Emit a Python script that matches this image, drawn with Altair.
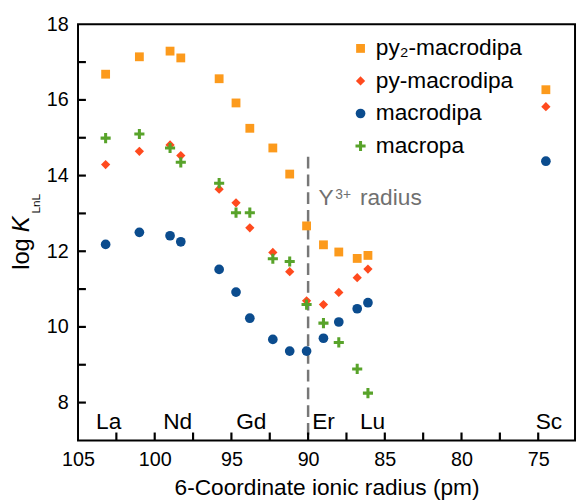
import altair as alt
import pandas as pd

# ---- data ----
elements = ["La", "Ce", "Pr", "Nd", "Sm", "Eu", "Gd", "Tb", "Dy", "Ho", "Er", "Tm", "Yb", "Lu", "Sc"]
radius = [103.2, 101.0, 99.0, 98.3, 95.8, 94.7, 93.8, 92.3, 91.2, 90.1, 89.0, 88.0, 86.8, 86.1, 74.5]
py2_macrodipa = [16.68, 17.14, 17.29, 17.11, 16.56, 15.92, 15.25, 14.73, 14.04, 12.67, 12.17, 11.98, 11.81, 11.89, 16.27]
py_macrodipa = [14.29, 14.64, 14.81, 14.53, 13.64, 13.28, 12.62, 11.97, 11.46, 10.69, 10.59, 10.91, 11.30, 11.53, 15.82]
macrodipa = [12.18, 12.50, 12.41, 12.25, 11.52, 10.92, 10.23, 9.67, 9.36, 9.36, 9.70, 10.13, 10.48, 10.64, 14.38]
macropa = [14.99, 15.10, 14.73, 14.35, 13.80, 13.02, 13.02, 11.80, 11.73, 10.59, 10.10, 9.59, 8.89, 8.25, None]

series_names = ["py\u2082-macrodipa", "py-macrodipa", "macrodipa", "macropa"]
series_values = [py2_macrodipa, py_macrodipa, macrodipa, macropa]
series_colors = ["#FC9A1C", "#FF4A1E", "#0B4C8E", "#58A32A"]
plus_path = "M-1,-0.3H-0.3V-1H0.3V-0.3H1V0.3H0.3V1H-0.3V0.3H-1Z"
series_shapes = ["square", "diamond", "circle", plus_path]
series_sizes = [80, 105, 50, 90]

label_names = ["La", "Nd", "Gd", "Er", "Lu", "Sc"]
label_radius = [103.0, 98.5, 93.7, 89.0, 85.8, 74.3]
label_y = 7.3

x_tick_labels = [105, 100, 95, 90, 85, 80, 75]
x_minor_ticks = [102.5, 100, 97.5, 95, 92.5, 90, 87.5, 85, 82.5, 80, 77.5, 75]
y_tick_labels = [8, 10, 12, 14, 16, 18]
y_minor_ticks = [8, 9, 10, 11, 12, 13, 14, 15, 16, 17]

y_radius = 90.0
FONT = "Liberation Sans"

rows = []
for name, vals in zip(series_names, series_values):
    for r, v in zip(radius, vals):
        if v is not None:
            rows.append({"radius": r, "logK": v, "series": name})
df = pd.DataFrame(rows)

W, H = 504, 422
X0, X1, Y0, Y1 = 105, 72.6, 7, 18
xscale = alt.Scale(domain=[X0, X1], nice=False, zero=False)
yscale = alt.Scale(domain=[Y0, Y1], nice=False, zero=False)
TICK = 8  # inward tick length in px
tick_dy = TICK * (Y1 - Y0) / H
tick_dx = TICK * (X0 - X1) / W

legend = alt.Legend(title=None, orient="none", legendX=275, legendY=13,
                    labelFontSize=23, labelFont=FONT, labelColor="black",
                    rowPadding=9, labelOffset=4, symbolStrokeWidth=0, padding=0)

points = alt.Chart(df).mark_point(filled=True, opacity=1, strokeWidth=0).encode(
    x=alt.X("radius:Q", scale=xscale,
            axis=alt.Axis(values=x_tick_labels, title="6-Coordinate ionic radius (pm)",
                          labelPadding=9, titlePadding=8, labelFlush=False, ticks=False,
                          domain=False, grid=False)),
    y=alt.Y("logK:Q", scale=yscale,
            axis=alt.Axis(values=y_tick_labels, title=None, labelPadding=10, labelFlush=False,
                          ticks=False, domain=False, grid=False)),
    color=alt.Color("series:N", scale=alt.Scale(domain=series_names, range=series_colors), legend=legend),
    shape=alt.Shape("series:N", scale=alt.Scale(domain=series_names, range=series_shapes), legend=legend),
    size=alt.Size("series:N", scale=alt.Scale(domain=series_names, range=series_sizes), legend=legend),
)

# inward ticks drawn through the scales
xt_df = pd.DataFrame({"xt": x_minor_ticks, "ya": [Y0] * len(x_minor_ticks),
                      "yb": [Y0 + tick_dy] * len(x_minor_ticks)})
xt = alt.Chart(xt_df).mark_rule(color="black", strokeWidth=2.2).encode(
    x=alt.X("xt:Q", scale=xscale, axis=None), y=alt.Y("ya:Q", scale=yscale, axis=None), y2="yb:Q")
yt_df = pd.DataFrame({"yt": y_minor_ticks, "xa": [X0] * len(y_minor_ticks),
                      "xb": [X0 - tick_dx] * len(y_minor_ticks)})
yt = alt.Chart(yt_df).mark_rule(color="black", strokeWidth=2.2).encode(
    y=alt.Y("yt:Q", scale=yscale, axis=None), x=alt.X("xa:Q", scale=xscale, axis=None), x2="xb:Q")

# Y3+ radius dashed line
yline = alt.Chart(pd.DataFrame({"x": [y_radius], "y1": [14.5], "y2": [7.0]})).mark_rule(
    color="#777777", strokeWidth=2.5, strokeDash=[12, 6]).encode(
    x=alt.X("x:Q", scale=xscale, axis=None), y=alt.Y("y1:Q", scale=yscale, axis=None), y2="y2:Q")

ann_df = pd.DataFrame({"x": [89.32], "y": [13.21]})
ann_Y = alt.Chart(ann_df).mark_text(text="Y", fontSize=23, font=FONT, color="#707070",
                                    align="left", baseline="alphabetic").encode(
    x=alt.X("x:Q", scale=xscale, axis=None), y=alt.Y("y:Q", scale=yscale, axis=None))
ann_sup = alt.Chart(ann_df).mark_text(text="3+", fontSize=14, font=FONT, color="#707070",
                                      align="left", baseline="alphabetic", dx=17, dy=-7).encode(
    x=alt.X("x:Q", scale=xscale, axis=None), y=alt.Y("y:Q", scale=yscale, axis=None))
ann_rad = alt.Chart(ann_df).mark_text(text="radius", fontSize=23, font=FONT, color="#707070",
                                      align="left", baseline="alphabetic", dx=42).encode(
    x=alt.X("x:Q", scale=xscale, axis=None), y=alt.Y("y:Q", scale=yscale, axis=None))

# element labels
lab = alt.Chart(pd.DataFrame({"name": label_names, "r": label_radius, "y": [label_y] * len(label_names)})
                ).mark_text(fontSize=23, font=FONT, color="black", align="center",
                            baseline="alphabetic").encode(
    x=alt.X("r:Q", scale=xscale, axis=None), y=alt.Y("y:Q", scale=yscale, axis=None), text="name:N")

# y axis title: log K_LnL
title_df = pd.DataFrame({"a": [0]})
t_log = alt.Chart(title_df).mark_text(text="log", fontSize=24, font=FONT, angle=270,
                                      align="left", baseline="alphabetic", color="black").encode(
    x=alt.value(-50), y=alt.value(249))
t_K = alt.Chart(title_df).mark_text(text="K", fontSize=24, font=FONT, fontStyle="italic", angle=270,
                                    align="left", baseline="alphabetic", color="black").encode(
    x=alt.value(-50), y=alt.value(211))
t_sub = alt.Chart(title_df).mark_text(text="LnL", fontSize=12, font=FONT, angle=270,
                                      align="left", baseline="alphabetic", color="black").encode(
    x=alt.value(-39), y=alt.value(192))

chart = alt.layer(yline, points, ann_Y, ann_sup, ann_rad, lab, t_log, t_K, t_sub, xt, yt).resolve_axis(
    x="independent", y="independent"
).properties(
    width=W, height=H,
    autosize=alt.AutoSizeParams(type="none"),
    padding={"left": 71, "top": 13, "right": 2, "bottom": 61},
).configure(background="white").configure_view(stroke="#000000", strokeWidth=2).configure_axis(
    labelFont=FONT, labelFontSize=20, labelColor="black",
    titleFont=FONT, titleFontSize=23, titleFontWeight="normal", titleColor="black",
)

chart.save("out.html", embed_options={"renderer": "svg", "actions": False})
